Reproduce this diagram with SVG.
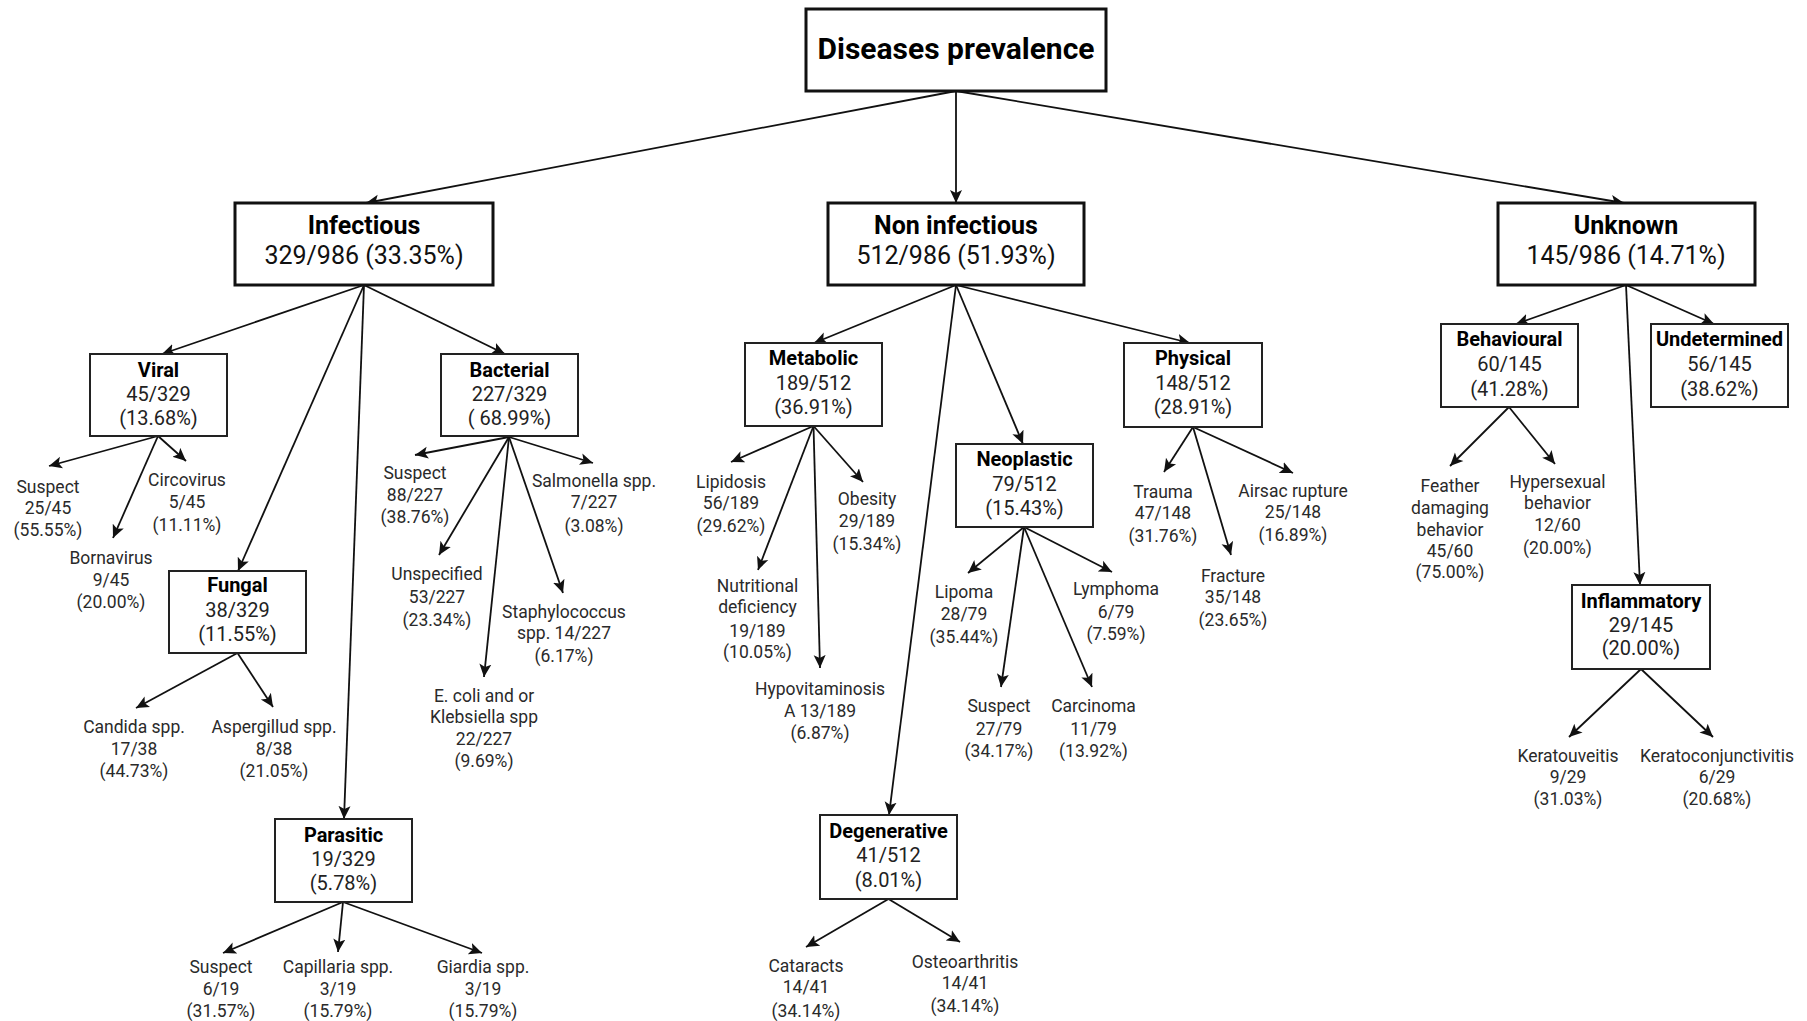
<svg xmlns="http://www.w3.org/2000/svg" width="1807" height="1021" viewBox="0 0 1807 1021">
<style>
text{font-family:Roboto,"Liberation Sans",sans-serif;text-anchor:middle}
.root{fill:#fff;stroke:#111;stroke-width:3}
.l1{fill:#fff;stroke:#111;stroke-width:3}
.l2{fill:#fff;stroke:#222;stroke-width:2}
.t0{font-size:30px;font-weight:bold;fill:#000}
.t1b{font-size:25px;font-weight:bold;fill:#000}
.t1{font-size:25px;fill:#111}
.t2b{font-size:20px;font-weight:bold;fill:#000}
.t2{font-size:20px;fill:#222}
.lf{font-size:17.5px;fill:#2a2a2a}
.c line{stroke:#111;stroke-width:1.8;marker-end:url(#ah)}
</style>
<defs>
<marker id="ah" markerUnits="userSpaceOnUse" markerWidth="14" markerHeight="14" viewBox="0 0 14 14" refX="13" refY="7" orient="auto">
<path d="M0,1 L13,7 L0,13 L3,7 z" fill="#111"/>
</marker>
</defs>
<rect width="1807" height="1021" fill="#fff"/>

<g id="connectors" class="c">
<line x1="956" y1="91" x2="366" y2="203"/>
<line x1="956" y1="91" x2="956" y2="203"/>
<line x1="956" y1="91" x2="1624" y2="203"/>
<line x1="364" y1="285" x2="162" y2="354"/>
<line x1="364" y1="285" x2="505" y2="354"/>
<line x1="364" y1="285" x2="238" y2="571"/>
<line x1="364" y1="285" x2="344" y2="819"/>
<line x1="158" y1="436" x2="49" y2="466"/>
<line x1="158" y1="436" x2="186" y2="461"/>
<line x1="158" y1="436" x2="113" y2="538"/>
<line x1="509" y1="437" x2="415" y2="455"/>
<line x1="509" y1="437" x2="439" y2="555"/>
<line x1="509" y1="437" x2="484" y2="677"/>
<line x1="509" y1="437" x2="563" y2="593"/>
<line x1="509" y1="437" x2="593" y2="463"/>
<line x1="237.5" y1="653" x2="136" y2="708"/>
<line x1="237.5" y1="653" x2="273" y2="707"/>
<line x1="343" y1="902" x2="223" y2="953"/>
<line x1="343" y1="902" x2="338" y2="952"/>
<line x1="343" y1="902" x2="482" y2="953"/>
<line x1="956" y1="285" x2="814" y2="343"/>
<line x1="956" y1="285" x2="889" y2="815"/>
<line x1="956" y1="285" x2="1023" y2="444"/>
<line x1="956" y1="285" x2="1190" y2="343"/>
<line x1="813.5" y1="426" x2="731" y2="462"/>
<line x1="813.5" y1="426" x2="758" y2="570"/>
<line x1="813.5" y1="426" x2="820" y2="668"/>
<line x1="813.5" y1="426" x2="863" y2="482"/>
<line x1="1024" y1="527" x2="968" y2="573"/>
<line x1="1024" y1="527" x2="1001" y2="687"/>
<line x1="1024" y1="527" x2="1092" y2="687"/>
<line x1="1024" y1="527" x2="1112" y2="572"/>
<line x1="1193" y1="427" x2="1164" y2="472"/>
<line x1="1193" y1="427" x2="1231" y2="555"/>
<line x1="1193" y1="427" x2="1293" y2="473"/>
<line x1="888.5" y1="899" x2="806" y2="947"/>
<line x1="888.5" y1="899" x2="960" y2="942"/>
<line x1="1626" y1="285" x2="1516" y2="324"/>
<line x1="1626" y1="285" x2="1640" y2="585"/>
<line x1="1626" y1="285" x2="1714" y2="324"/>
<line x1="1509" y1="407" x2="1450" y2="466"/>
<line x1="1509" y1="407" x2="1555" y2="464"/>
<line x1="1641" y1="669" x2="1569" y2="737"/>
<line x1="1641" y1="669" x2="1713" y2="737"/>
</g>

<g id="diseases-prevalence">
<rect class="root" x="806" y="9" width="300" height="82"/>
<text class="t0" x="956" y="59">Diseases prevalence</text>
</g>

<g id="infectious">
<rect class="l1" x="235" y="203" width="258" height="82"/>
<text class="t1b" x="364" y="234">Infectious</text>
<text class="t1" x="364" y="264">329/986 (33.35%)</text>
</g>
<g id="non-infectious">
<rect class="l1" x="828" y="203" width="256" height="82"/>
<text class="t1b" x="956" y="234">Non infectious</text>
<text class="t1" x="956" y="264">512/986 (51.93%)</text>
</g>
<g id="unknown">
<rect class="l1" x="1498" y="203" width="257" height="82"/>
<text class="t1b" x="1626" y="234">Unknown</text>
<text class="t1" x="1626" y="264">145/986 (14.71%)</text>
</g>

<g id="viral">
<rect class="l2" x="90" y="354" width="137" height="82"/>
<text class="t2b" x="158.5" y="377">Viral</text>
<text class="t2" x="158.5" y="401">45/329</text>
<text class="t2" x="158.5" y="425">(13.68%)</text>
</g>
<g id="bacterial">
<rect class="l2" x="441" y="354" width="137" height="82"/>
<text class="t2b" x="509.5" y="377">Bacterial</text>
<text class="t2" x="509.5" y="401">227/329</text>
<text class="t2" x="509.5" y="425">( 68.99%)</text>
</g>
<g id="fungal">
<rect class="l2" x="169" y="571" width="137" height="82"/>
<text class="t2b" x="237.5" y="592">Fungal</text>
<text class="t2" x="237.5" y="616.5">38/329</text>
<text class="t2" x="237.5" y="641">(11.55%)</text>
</g>
<g id="parasitic">
<rect class="l2" x="275" y="819" width="137" height="83"/>
<text class="t2b" x="343.5" y="842">Parasitic</text>
<text class="t2" x="343.5" y="866">19/329</text>
<text class="t2" x="343.5" y="890">(5.78%)</text>
</g>
<g id="metabolic">
<rect class="l2" x="745" y="343" width="137" height="83"/>
<text class="t2b" x="813.5" y="365">Metabolic</text>
<text class="t2" x="813.5" y="389.5">189/512</text>
<text class="t2" x="813.5" y="414">(36.91%)</text>
</g>
<g id="neoplastic">
<rect class="l2" x="956" y="444" width="137" height="83"/>
<text class="t2b" x="1024.5" y="466">Neoplastic</text>
<text class="t2" x="1024.5" y="490.5">79/512</text>
<text class="t2" x="1024.5" y="515">(15.43%)</text>
</g>
<g id="physical">
<rect class="l2" x="1124" y="343" width="138" height="84"/>
<text class="t2b" x="1193" y="365">Physical</text>
<text class="t2" x="1193" y="390">148/512</text>
<text class="t2" x="1193" y="414">(28.91%)</text>
</g>
<g id="degenerative">
<rect class="l2" x="820" y="815" width="137" height="84"/>
<text class="t2b" x="888.5" y="838">Degenerative</text>
<text class="t2" x="888.5" y="862">41/512</text>
<text class="t2" x="888.5" y="887">(8.01%)</text>
</g>
<g id="behavioural">
<rect class="l2" x="1441" y="324" width="137" height="83"/>
<text class="t2b" x="1509.5" y="346">Behavioural</text>
<text class="t2" x="1509.5" y="371">60/145</text>
<text class="t2" x="1509.5" y="396">(41.28%)</text>
</g>
<g id="undetermined">
<rect class="l2" x="1651" y="324" width="137" height="83"/>
<text class="t2b" x="1719.5" y="346">Undetermined</text>
<text class="t2" x="1719.5" y="371">56/145</text>
<text class="t2" x="1719.5" y="396">(38.62%)</text>
</g>
<g id="inflammatory">
<rect class="l2" x="1572" y="585" width="138" height="84"/>
<text class="t2b" x="1641" y="608">Inflammatory</text>
<text class="t2" x="1641" y="632">29/145</text>
<text class="t2" x="1641" y="655">(20.00%)</text>
</g>

<g id="viral-suspect"><text class="lf"><tspan x="48" y="493">Suspect</tspan><tspan x="48" y="514">25/45</tspan><tspan x="48" y="536">(55.55%)</tspan></text></g>
<g id="circovirus"><text class="lf"><tspan x="187" y="486">Circovirus</tspan><tspan x="187" y="508">5/45</tspan><tspan x="187" y="531">(11.11%)</tspan></text></g>
<g id="bornavirus"><text class="lf"><tspan x="111" y="564">Bornavirus</tspan><tspan x="111" y="586">9/45</tspan><tspan x="111" y="608">(20.00%)</tspan></text></g>
<g id="bacterial-suspect"><text class="lf"><tspan x="415" y="479">Suspect</tspan><tspan x="415" y="501">88/227</tspan><tspan x="415" y="523">(38.76%)</tspan></text></g>
<g id="unspecified"><text class="lf"><tspan x="437" y="580">Unspecified</tspan><tspan x="437" y="603">53/227</tspan><tspan x="437" y="626">(23.34%)</tspan></text></g>
<g id="ecoli"><text class="lf"><tspan x="484" y="702">E. coli and or</tspan><tspan x="484" y="723">Klebsiella spp</tspan><tspan x="484" y="745">22/227</tspan><tspan x="484" y="767">(9.69%)</tspan></text></g>
<g id="staphylococcus"><text class="lf"><tspan x="564" y="618">Staphylococcus</tspan><tspan x="564" y="639">spp. 14/227</tspan><tspan x="564" y="662">(6.17%)</tspan></text></g>
<g id="salmonella"><text class="lf"><tspan x="594" y="487">Salmonella spp.</tspan><tspan x="594" y="508">7/227</tspan><tspan x="594" y="532">(3.08%)</tspan></text></g>
<g id="candida"><text class="lf"><tspan x="134" y="733">Candida spp.</tspan><tspan x="134" y="755">17/38</tspan><tspan x="134" y="777">(44.73%)</tspan></text></g>
<g id="aspergillud"><text class="lf"><tspan x="274" y="733">Aspergillud spp.</tspan><tspan x="274" y="755">8/38</tspan><tspan x="274" y="777">(21.05%)</tspan></text></g>
<g id="parasitic-suspect"><text class="lf"><tspan x="221" y="973">Suspect</tspan><tspan x="221" y="995">6/19</tspan><tspan x="221" y="1017">(31.57%)</tspan></text></g>
<g id="capillaria"><text class="lf"><tspan x="338" y="973">Capillaria spp.</tspan><tspan x="338" y="995">3/19</tspan><tspan x="338" y="1017">(15.79%)</tspan></text></g>
<g id="giardia"><text class="lf"><tspan x="483" y="973">Giardia spp.</tspan><tspan x="483" y="995">3/19</tspan><tspan x="483" y="1017">(15.79%)</tspan></text></g>
<g id="lipidosis"><text class="lf"><tspan x="731" y="488">Lipidosis</tspan><tspan x="731" y="509">56/189</tspan><tspan x="731" y="532">(29.62%)</tspan></text></g>
<g id="obesity"><text class="lf"><tspan x="867" y="505">Obesity</tspan><tspan x="867" y="527">29/189</tspan><tspan x="867" y="550">(15.34%)</tspan></text></g>
<g id="nutritional"><text class="lf"><tspan x="757.5" y="592">Nutritional</tspan><tspan x="757.5" y="613">deficiency</tspan><tspan x="757.5" y="637">19/189</tspan><tspan x="757.5" y="658">(10.05%)</tspan></text></g>
<g id="hypovitaminosis"><text class="lf"><tspan x="820" y="695">Hypovitaminosis</tspan><tspan x="820" y="717">A 13/189</tspan><tspan x="820" y="739">(6.87%)</tspan></text></g>
<g id="lipoma"><text class="lf"><tspan x="964" y="598">Lipoma</tspan><tspan x="964" y="620">28/79</tspan><tspan x="964" y="643">(35.44%)</tspan></text></g>
<g id="lymphoma"><text class="lf"><tspan x="1116" y="595">Lymphoma</tspan><tspan x="1116" y="618">6/79</tspan><tspan x="1116" y="640">(7.59%)</tspan></text></g>
<g id="neoplastic-suspect"><text class="lf"><tspan x="999" y="712">Suspect</tspan><tspan x="999" y="735">27/79</tspan><tspan x="999" y="757">(34.17%)</tspan></text></g>
<g id="carcinoma"><text class="lf"><tspan x="1093.5" y="712">Carcinoma</tspan><tspan x="1093.5" y="735">11/79</tspan><tspan x="1093.5" y="757">(13.92%)</tspan></text></g>
<g id="trauma"><text class="lf"><tspan x="1163" y="498">Trauma</tspan><tspan x="1163" y="519">47/148</tspan><tspan x="1163" y="542">(31.76%)</tspan></text></g>
<g id="fracture"><text class="lf"><tspan x="1233" y="582">Fracture</tspan><tspan x="1233" y="603">35/148</tspan><tspan x="1233" y="626">(23.65%)</tspan></text></g>
<g id="airsac"><text class="lf"><tspan x="1293" y="497">Airsac rupture</tspan><tspan x="1293" y="518">25/148</tspan><tspan x="1293" y="541">(16.89%)</tspan></text></g>
<g id="cataracts"><text class="lf"><tspan x="806" y="972">Cataracts</tspan><tspan x="806" y="993">14/41</tspan><tspan x="806" y="1017">(34.14%)</tspan></text></g>
<g id="osteoarthritis"><text class="lf"><tspan x="965" y="968">Osteoarthritis</tspan><tspan x="965" y="989">14/41</tspan><tspan x="965" y="1012">(34.14%)</tspan></text></g>
<g id="feather"><text class="lf"><tspan x="1450" y="492">Feather</tspan><tspan x="1450" y="514">damaging</tspan><tspan x="1450" y="536">behavior</tspan><tspan x="1450" y="557">45/60</tspan><tspan x="1450" y="578">(75.00%)</tspan></text></g>
<g id="hypersexual"><text class="lf"><tspan x="1557.5" y="488">Hypersexual</tspan><tspan x="1557.5" y="509">behavior</tspan><tspan x="1557.5" y="531">12/60</tspan><tspan x="1557.5" y="554">(20.00%)</tspan></text></g>
<g id="keratouveitis"><text class="lf"><tspan x="1568" y="762">Keratouveitis</tspan><tspan x="1568" y="783">9/29</tspan><tspan x="1568" y="805">(31.03%)</tspan></text></g>
<g id="keratoconjunctivitis"><text class="lf"><tspan x="1717" y="762">Keratoconjunctivitis</tspan><tspan x="1717" y="783">6/29</tspan><tspan x="1717" y="805">(20.68%)</tspan></text></g>
</svg>
